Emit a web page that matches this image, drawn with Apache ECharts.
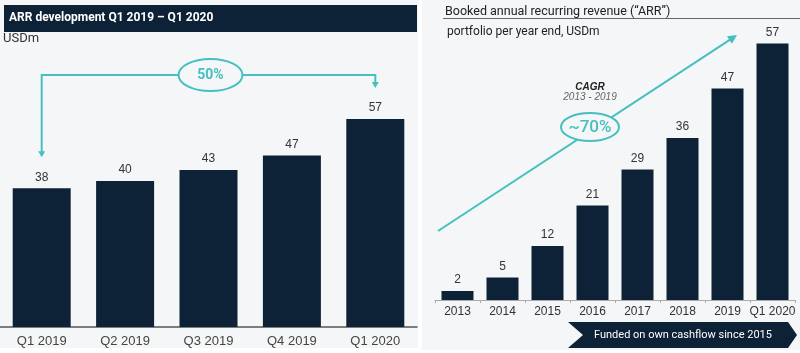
<!DOCTYPE html>
<html>
<head>
<meta charset="utf-8">
<script src="https://cdn.jsdelivr.net/npm/echarts@6/dist/echarts.min.js"></script>
<style>
html,body{margin:0;padding:0;background:#fff;}
#chart{width:800px;height:353px;}
</style>
</head>
<body>
<div id="chart"></div>
<script>
// ---- data ----
const leftCategories = ['Q1 2019', 'Q2 2019', 'Q3 2019', 'Q4 2019', 'Q1 2020'];
const leftValues = [38, 40, 43, 47, 57];
const rightCategories = ['2013', '2014', '2015', '2016', '2017', '2018', '2019', 'Q1 2020'];
const rightValues = [2, 5, 12, 21, 29, 36, 47, 57];
const leftTitle = 'ARR development Q1 2019 – Q1 2020';
const leftUnit = 'USDm';
const leftGrowth = '50%';
const rightTitle = 'Booked annual recurring revenue (“ARR”)';
const rightSubtitle = 'portfolio per year end, USDm';
const cagrTitle = 'CAGR';
const cagrPeriod = '2013 - 2019';
const cagrValue = '~70%';
const bannerText = 'Funded on own cashflow since 2015';

const NAVY = '#0d2237';
const TEAL = '#45bfc0';
const BG = '#f5f6f7';
const SANS = 'Roboto, Inter, "Liberation Sans", Arial, sans-serif';
const ARIAL = '"Liberation Sans", Arial, sans-serif';

const chart = echarts.init(document.getElementById('chart'), null, {renderer: 'canvas'});

const baseGraphics = [
  {type: 'rect', silent: true, z: -10, shape: {x: 0, y: 0, width: 418, height: 348}, style: {fill: BG}},
  {type: 'rect', silent: true, z: -10, shape: {x: 422, y: 0, width: 378, height: 350}, style: {fill: BG}},
  {type: 'rect', silent: true, shape: {x: 4, y: 5, width: 413, height: 27}, style: {fill: NAVY}},
  {type: 'text', silent: true, x: 9, y: 18, style: {text: leftTitle, fill: '#fff', font: 'bold 12px ' + SANS, textVerticalAlign: 'middle', textAlign: 'left'}},
  {type: 'text', silent: true, x: 3, y: 39, style: {text: leftUnit, fill: '#333', font: '13px ' + SANS, textVerticalAlign: 'middle'}},
  {type: 'text', silent: true, x: 445, y: 12, style: {text: rightTitle, fill: '#222', font: '12.5px ' + SANS, textVerticalAlign: 'middle'}},
  {type: 'line', silent: true, shape: {x1: 443, y1: 18.5, x2: 800, y2: 18.5}, style: {stroke: '#666', lineWidth: 1}},
  {type: 'text', silent: true, x: 447, y: 32, style: {text: rightSubtitle, fill: '#222', font: '12px ' + SANS, textVerticalAlign: 'middle'}},
  {type: 'polygon', silent: true, shape: {points: [[568,322],[788,322],[797,335],[788,348],[568,348],[583,335]]}, style: {fill: NAVY}},
  {type: 'text', silent: true, x: 683, y: 335, style: {text: bannerText, fill: '#fff', font: '11px ' + SANS, textAlign: 'center', textVerticalAlign: 'middle'}}
];

chart.setOption({
  animation: false,
  backgroundColor: 'transparent',
  grid: [
    {left: 0, width: 417, top: 35, bottom: 26, containLabel: false},
    {left: 435, width: 360, top: 30, bottom: 53, containLabel: false}
  ],
  xAxis: [
    {gridIndex: 0, type: 'category', data: leftCategories,
     axisLine: {lineStyle: {color: '#555', width: 1.5}}, axisTick: {show: false},
     axisLabel: {color: '#444', fontSize: 13, fontFamily: ARIAL, margin: 8, interval: 0}},
    {gridIndex: 1, type: 'category', data: rightCategories,
     axisLine: {lineStyle: {color: '#aaa', width: 1}}, axisTick: {show: true, length: 3, interval: 0, lineStyle: {color: '#aaa'}},
     axisLabel: {color: '#333', fontSize: 12, fontFamily: ARIAL, margin: 6, interval: 0, hideOverlap: false}}
  ],
  yAxis: [
    {gridIndex: 0, type: 'value', min: 0, max: 80, show: false, splitLine: {show: false}},
    {gridIndex: 1, type: 'value', min: 0, max: 60, show: false, splitLine: {show: false}}
  ],
  series: [
    {type: 'bar', xAxisIndex: 0, yAxisIndex: 0, data: leftValues, barWidth: 58,
     itemStyle: {color: NAVY},
     label: {show: true, position: 'top', distance: 5, color: '#333', fontSize: 12, fontFamily: ARIAL}},
    {type: 'bar', xAxisIndex: 1, yAxisIndex: 1, data: rightValues, barWidth: 32,
     itemStyle: {color: NAVY},
     label: {show: true, position: 'top', distance: 5, color: '#333', fontSize: 12, fontFamily: ARIAL}}
  ],
  graphic: baseGraphics
});

function arrowHead(tip, from, len, half) {
  const dx = tip[0] - from[0], dy = tip[1] - from[1];
  const d = Math.sqrt(dx*dx + dy*dy);
  const ux = dx/d, uy = dy/d;
  const bx = tip[0] - ux*len, by = tip[1] - uy*len;
  return {type: 'polygon', silent: true, z: 5,
    shape: {points: [tip, [bx - uy*half, by + ux*half], [bx + uy*half, by - ux*half]]},
    style: {fill: TEAL}};
}

// Left connector computed from axis positions
const pFirst = chart.convertToPixel({xAxisIndex: 0, yAxisIndex: 0}, [0, leftValues[0]]);
const pLast = chart.convertToPixel({xAxisIndex: 0, yAxisIndex: 0}, [leftValues.length - 1, leftValues[leftValues.length - 1]]);
const hy = 75;
const tipA = [pFirst[0], pFirst[1] - 31];
const tipB = [pLast[0], pLast[1] - 31];
const midX = (pFirst[0] + pLast[0]) / 2 + 2;

// Right CAGR arrow
const rStart = [438, 231];
const rEnd = [737, 35];
const ellR = [590, 127];

const extra = [
  {type: 'polyline', silent: true, z: 4, shape: {points: [[tipA[0], tipA[1] - 5], [tipA[0], hy], [tipB[0], hy], [tipB[0], tipB[1] - 5]]}, style: {stroke: TEAL, lineWidth: 2, fill: null}},
  arrowHead(tipA, [tipA[0], hy], 6, 3.5),
  arrowHead(tipB, [tipB[0], hy], 6, 3.5),
  {type: 'ellipse', silent: true, z: 6, shape: {cx: midX, cy: hy, rx: 32, ry: 16}, style: {fill: BG, stroke: TEAL, lineWidth: 2}},
  {type: 'text', silent: true, z: 7, x: midX, y: hy, style: {text: leftGrowth, fill: TEAL, font: 'bold 14px ' + SANS, textAlign: 'center', textVerticalAlign: 'middle'}},
  {type: 'line', silent: true, z: 4, shape: {x1: rStart[0], y1: rStart[1], x2: rEnd[0] - 5, y2: rEnd[1] + 3.3}, style: {stroke: TEAL, lineWidth: 2}},
  arrowHead(rEnd, rStart, 9, 4.5),
  {type: 'ellipse', silent: true, z: 6, shape: {cx: ellR[0], cy: ellR[1], rx: 29, ry: 14}, style: {fill: BG, stroke: TEAL, lineWidth: 2}},
  {type: 'text', silent: true, z: 7, x: ellR[0], y: ellR[1] + 1, style: {text: cagrValue, fill: TEAL, font: '500 17px ' + SANS, textAlign: 'center', textVerticalAlign: 'middle'}},
  {type: 'text', silent: true, z: 7, x: ellR[0], y: 87, style: {text: cagrTitle, fill: '#222', font: 'italic bold 10px ' + ARIAL, textAlign: 'center', textVerticalAlign: 'middle'}},
  {type: 'text', silent: true, z: 7, x: ellR[0], y: 97, style: {text: cagrPeriod, fill: '#666', font: 'italic 10px ' + ARIAL, textAlign: 'center', textVerticalAlign: 'middle'}}
];

chart.setOption({graphic: baseGraphics.concat(extra)});
</script>
</body>
</html>
